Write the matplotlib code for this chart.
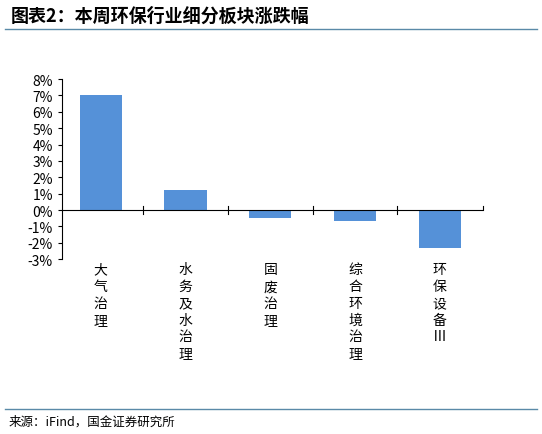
import matplotlib
matplotlib.use("Agg")
import matplotlib.pyplot as plt
from matplotlib.lines import Line2D
from matplotlib.ticker import FuncFormatter

plt.rcParams['font.family'] = ['Noto Sans CJK SC', 'DejaVu Sans']

categories = ['大气治理', '水务及水治理', '固废治理', '综合环境治理', '环保设备Ⅲ']
values = [7.0, 1.2, -0.5, -0.7, -2.3]
yticks = list(range(-3, 9))

fig = plt.figure(figsize=(5.42, 4.35), dpi=100)
ax = fig.add_axes([0.114, 0.402, 0.777, 0.414])
x = list(range(len(categories)))
ax.bar(x, values, width=0.5, color='#5591D8')
ax.set_xlim(-0.46, 4.51)
ax.set_ylim(-3, 8)
ax.set_yticks(yticks)
ax.yaxis.set_major_formatter(FuncFormatter(lambda v, p: f'{int(v)}%'))
ax.tick_params(axis='y', labelsize=10, length=3, direction='out')
for s in ['top', 'right', 'bottom']:
    ax.spines[s].set_visible(False)
ax.axhline(0, color='black', lw=0.8)
ax.set_xticks([])
for i in x[:-1]:
    ax.plot([i + 0.5, i + 0.5], [-0.25, 0.25], color='black', lw=0.8, clip_on=False)
ax.plot([4.51, 4.51], [0, 0.25], color='black', lw=0.8, clip_on=False)
for i, c in enumerate(categories):
    ax.text(i, -3.2, '\n'.join(c), ha='center', va='top', fontsize=10, linespacing=1.25)

fig.text(0.02, 0.962, '图表2：本周环保行业细分板块涨跌幅', fontsize=13, fontweight='bold',
         style='italic', va='center')
fig.add_artist(Line2D([0.01, 0.99], [0.932, 0.932], color='#5A8AA8', lw=1))
fig.add_artist(Line2D([0.01, 0.99], [0.057, 0.057], color='#5A8AA8', lw=1))
fig.text(0.015, 0.03, '来源：iFind，国金证券研究所', fontsize=9, va='center')
fig.savefig('out.png', dpi=100)
